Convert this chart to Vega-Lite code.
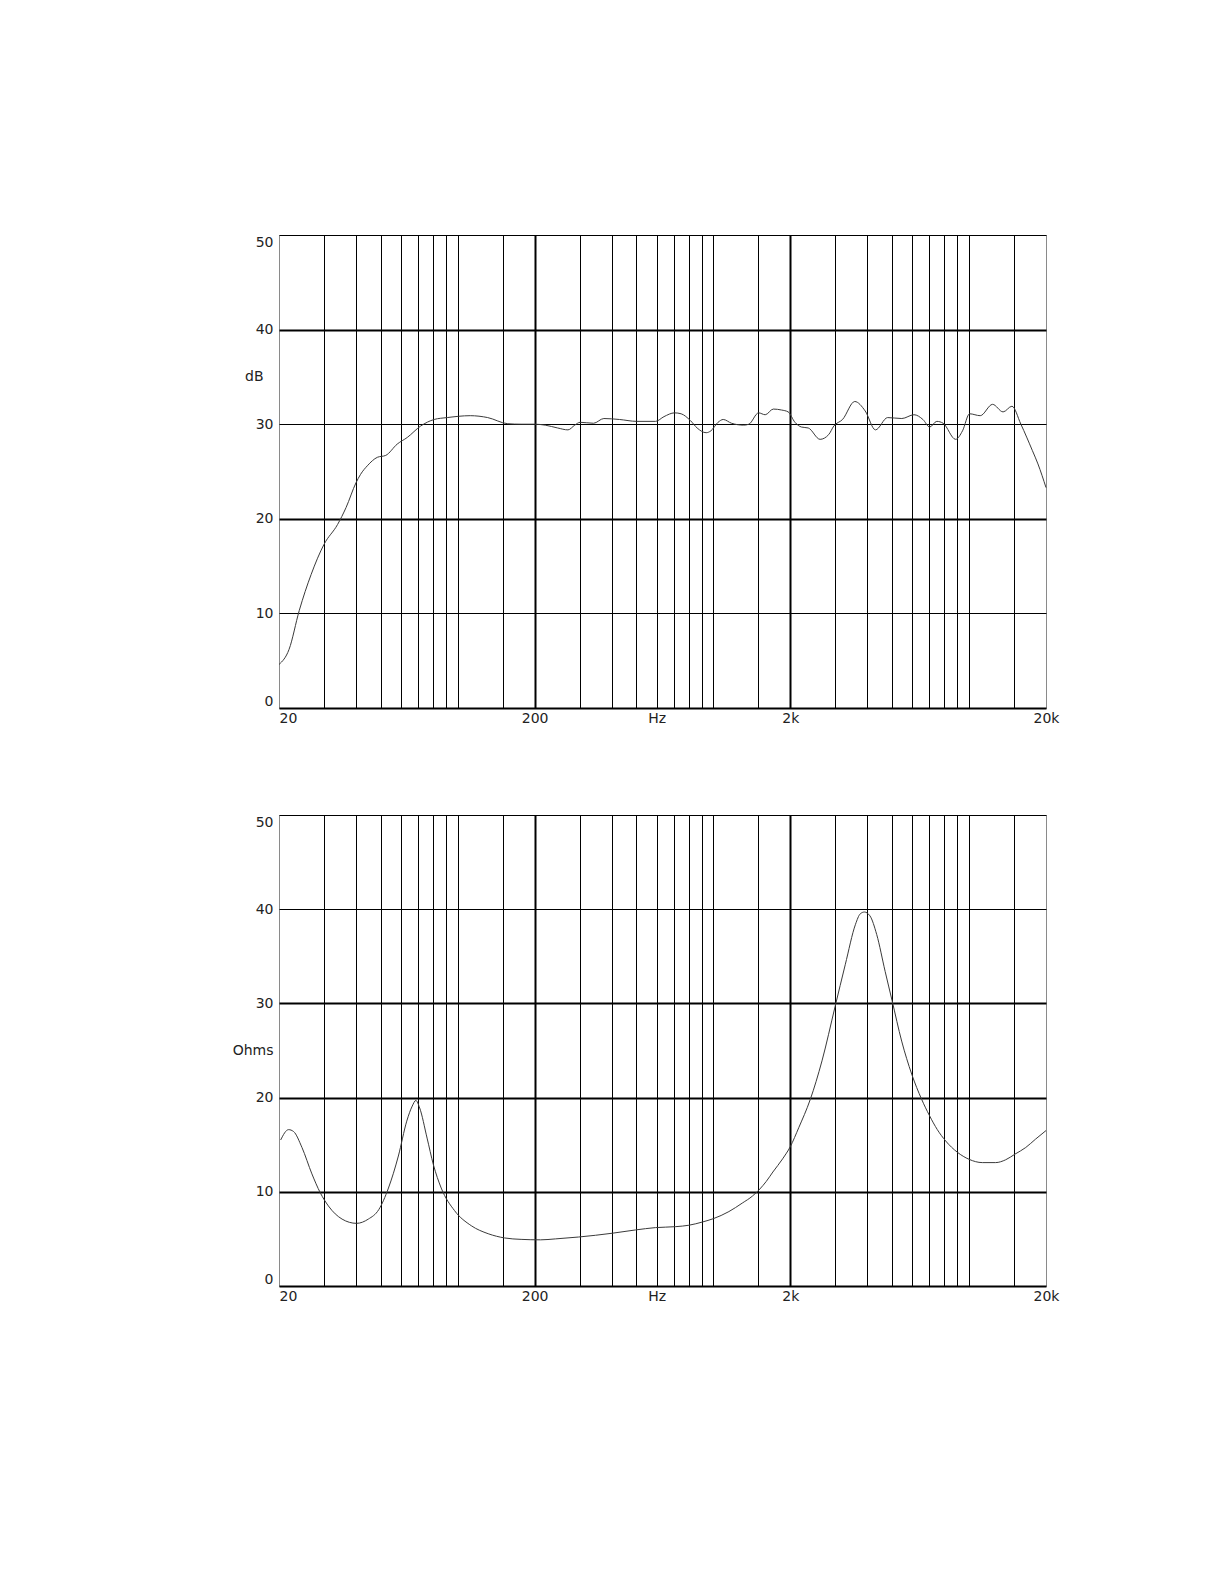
{
  "$schema": "https://vega.github.io/schema/vega-lite/v6.json",
  "background": "white",
  "padding": {"left": 231, "top": 234, "right": 0, "bottom": 0},
  "config": {
    "view": {"stroke": "#8a8a8a", "strokeWidth": 1},
    "axis": {
      "labelFont": "DejaVu Sans",
      "labelFontSize": 14,
      "labelColor": "#222222",
      "ticks": false,
      "domain": false,
      "title": null,
      "gridColor": "black",
      "labelOverlap": false
    }
  },
  "datasets": {
    "spl": [
      {"f": 20, "db": 4.6}, {"f": 21.9, "db": 6.2}, {"f": 24.0, "db": 10.3}, {"f": 26.7, "db": 14.1},
      {"f": 30, "db": 17.3}, {"f": 33.9, "db": 19.4}, {"f": 36.6, "db": 21.2}, {"f": 40, "db": 23.8},
      {"f": 41.7, "db": 24.7}, {"f": 44.3, "db": 25.6}, {"f": 48.5, "db": 26.5}, {"f": 52.3, "db": 26.7},
      {"f": 58, "db": 27.9}, {"f": 63.5, "db": 28.6}, {"f": 71.6, "db": 29.8}, {"f": 80.9, "db": 30.5},
      {"f": 91, "db": 30.7}, {"f": 112, "db": 30.9}, {"f": 131, "db": 30.7}, {"f": 157, "db": 30.05},
      {"f": 177, "db": 30.0}, {"f": 200, "db": 30.0}, {"f": 220, "db": 29.9}, {"f": 246, "db": 29.6},
      {"f": 270, "db": 29.4}, {"f": 287, "db": 29.9}, {"f": 301, "db": 30.2}, {"f": 340, "db": 30.1},
      {"f": 373, "db": 30.6}, {"f": 429, "db": 30.5}, {"f": 501, "db": 30.3}, {"f": 594, "db": 30.3},
      {"f": 641, "db": 30.8}, {"f": 705, "db": 31.2}, {"f": 748, "db": 31.1}, {"f": 812, "db": 30.4},
      {"f": 864, "db": 29.6}, {"f": 937, "db": 29.1}, {"f": 978, "db": 29.3}, {"f": 1043, "db": 30.2},
      {"f": 1093, "db": 30.5}, {"f": 1178, "db": 30.1}, {"f": 1313, "db": 29.9}, {"f": 1377, "db": 30.0},
      {"f": 1503, "db": 31.2}, {"f": 1595, "db": 31.0}, {"f": 1716, "db": 31.6}, {"f": 1847, "db": 31.5},
      {"f": 1961, "db": 31.3}, {"f": 2085, "db": 30.2}, {"f": 2211, "db": 29.7}, {"f": 2350, "db": 29.6},
      {"f": 2615, "db": 28.4}, {"f": 2825, "db": 28.9}, {"f": 2958, "db": 29.8}, {"f": 3201, "db": 30.5},
      {"f": 3573, "db": 32.4}, {"f": 3925, "db": 31.4}, {"f": 4305, "db": 29.4}, {"f": 4806, "db": 30.7},
      {"f": 5458, "db": 30.6}, {"f": 6093, "db": 31.0}, {"f": 6600, "db": 30.5}, {"f": 7018, "db": 29.7},
      {"f": 7480, "db": 30.3}, {"f": 7920, "db": 30.1}, {"f": 8860, "db": 28.4}, {"f": 9430, "db": 29.3},
      {"f": 10050, "db": 31.1}, {"f": 11060, "db": 30.9}, {"f": 12360, "db": 32.1}, {"f": 13590, "db": 31.3},
      {"f": 14720, "db": 31.9}, {"f": 15950, "db": 30.0}, {"f": 17700, "db": 27.2}, {"f": 18600, "db": 25.8},
      {"f": 20000, "db": 23.3}
    ],
    "imp": [
      {"f": 20.3, "ohm": 15.5}, {"f": 21.8, "ohm": 16.6}, {"f": 22.8, "ohm": 16.4}, {"f": 24.6, "ohm": 14.7},
      {"f": 26.9, "ohm": 11.9}, {"f": 29, "ohm": 9.9}, {"f": 31.2, "ohm": 8.5}, {"f": 35.3, "ohm": 7.1},
      {"f": 40.2, "ohm": 6.65}, {"f": 44.7, "ohm": 7.1}, {"f": 49.1, "ohm": 8.1}, {"f": 53.6, "ohm": 10.4},
      {"f": 58.6, "ohm": 13.8}, {"f": 63.2, "ohm": 17.5}, {"f": 66.4, "ohm": 19.1}, {"f": 68.6, "ohm": 19.7},
      {"f": 71, "ohm": 18.9}, {"f": 75.9, "ohm": 15.7}, {"f": 80.3, "ohm": 12.9}, {"f": 86.2, "ohm": 10.4},
      {"f": 97.2, "ohm": 8.0}, {"f": 113, "ohm": 6.4}, {"f": 131.6, "ohm": 5.55}, {"f": 152.6, "ohm": 5.1},
      {"f": 177, "ohm": 4.95}, {"f": 211, "ohm": 4.9}, {"f": 241, "ohm": 5.0}, {"f": 297, "ohm": 5.2},
      {"f": 402, "ohm": 5.6}, {"f": 496, "ohm": 5.95}, {"f": 594, "ohm": 6.2}, {"f": 713, "ohm": 6.3},
      {"f": 802, "ohm": 6.45}, {"f": 908, "ohm": 6.8}, {"f": 1000, "ohm": 7.15}, {"f": 1150, "ohm": 7.9},
      {"f": 1297, "ohm": 8.8}, {"f": 1422, "ohm": 9.55}, {"f": 1520, "ohm": 10.3}, {"f": 1610, "ohm": 11.1},
      {"f": 1709, "ohm": 12.1}, {"f": 1866, "ohm": 13.5}, {"f": 2000, "ohm": 14.8}, {"f": 2157, "ohm": 16.8},
      {"f": 2393, "ohm": 19.8}, {"f": 2660, "ohm": 23.9}, {"f": 2995, "ohm": 29.7}, {"f": 3279, "ohm": 34.1},
      {"f": 3597, "ohm": 38.4}, {"f": 3752, "ohm": 39.5}, {"f": 3897, "ohm": 39.7}, {"f": 4095, "ohm": 39.3},
      {"f": 4355, "ohm": 37.3}, {"f": 4697, "ohm": 33.4}, {"f": 5000, "ohm": 30.3}, {"f": 5451, "ohm": 26.0},
      {"f": 5966, "ohm": 22.5}, {"f": 6530, "ohm": 19.8}, {"f": 7000, "ohm": 18.1}, {"f": 7515, "ohm": 16.6},
      {"f": 8100, "ohm": 15.4}, {"f": 9000, "ohm": 14.2}, {"f": 10000, "ohm": 13.45}, {"f": 11270, "ohm": 13.1},
      {"f": 12710, "ohm": 13.1}, {"f": 13910, "ohm": 13.4}, {"f": 15130, "ohm": 14.0}, {"f": 16660, "ohm": 14.7},
      {"f": 18220, "ohm": 15.6}, {"f": 20000, "ohm": 16.5}
    ]
  },
  "bounds": "flush",
  "spacing": 107,
  "vconcat": [
    {
      "width": 767,
      "height": 473,
      "data": {"name": "spl"},
      "mark": {"type": "line", "interpolate": "monotone", "stroke": "#3a3a3a", "strokeWidth": 1},
      "encoding": {
        "x": {
          "field": "f",
          "type": "quantitative",
          "scale": {"type": "log", "domain": [20, 20000], "nice": false},
          "axis": {
            "values": [20, 30, 40, 50, 60, 70, 80, 90, 100, 150, 200, 300, 400, 500, 600, 700, 800, 900, 1000, 1500, 2000, 3000, 4000, 5000, 6000, 7000, 8000, 9000, 10000, 15000, 20000],
            "grid": true,
            "gridWidth": {"condition": {"test": "datum.value == 200 || datum.value == 2000", "value": 2}, "value": 1},
            "gridColor": {"condition": {"test": "datum.value == 20 || datum.value == 20000", "value": "#8a8a8a"}, "value": "black"},
            "labelExpr": "datum.value == 20 ? '20' : datum.value == 200 ? '200' : datum.value == 600 ? 'Hz' : datum.value == 2000 ? '2k' : datum.value == 20000 ? '20k' : ''",
            "labelFlush": false,
            "labelAlign": {"condition": {"test": "datum.value == 20", "value": "left"}, "value": "center"},
            "labelPadding": 3
          }
        },
        "y": {
          "field": "db",
          "type": "quantitative",
          "scale": {"domain": [0, 50], "nice": false, "zero": false},
          "axis": {
            "values": [0, 10, 20, 30, 35, 40, 50],
            "grid": true,
            "gridWidth": {"condition": {"test": "datum.value == 0 || datum.value == 20 || datum.value == 40", "value": 2}, "value": 1},
            "gridOpacity": {"condition": {"test": "datum.value == 35", "value": 0}, "value": 1},
            "labelExpr": "datum.value == 35 ? 'dB' : datum.label",
            "labelFlush": true,
            "labelPadding": {"condition": {"test": "datum.value == 35", "value": 16}, "value": 6}
          }
        }
      }
    },
    {
      "width": 767,
      "height": 471,
      "data": {"name": "imp"},
      "mark": {"type": "line", "interpolate": "monotone", "stroke": "#3a3a3a", "strokeWidth": 1},
      "encoding": {
        "x": {
          "field": "f",
          "type": "quantitative",
          "scale": {"type": "log", "domain": [20, 20000], "nice": false},
          "axis": {
            "values": [20, 30, 40, 50, 60, 70, 80, 90, 100, 150, 200, 300, 400, 500, 600, 700, 800, 900, 1000, 1500, 2000, 3000, 4000, 5000, 6000, 7000, 8000, 9000, 10000, 15000, 20000],
            "grid": true,
            "gridWidth": {"condition": {"test": "datum.value == 200 || datum.value == 2000", "value": 2}, "value": 1},
            "gridColor": {"condition": {"test": "datum.value == 20 || datum.value == 20000", "value": "#8a8a8a"}, "value": "black"},
            "labelExpr": "datum.value == 20 ? '20' : datum.value == 200 ? '200' : datum.value == 600 ? 'Hz' : datum.value == 2000 ? '2k' : datum.value == 20000 ? '20k' : ''",
            "labelFlush": false,
            "labelAlign": {"condition": {"test": "datum.value == 20", "value": "left"}, "value": "center"},
            "labelPadding": 3
          }
        },
        "y": {
          "field": "ohm",
          "type": "quantitative",
          "scale": {"domain": [0, 50], "nice": false, "zero": false},
          "axis": {
            "values": [0, 10, 20, 25, 30, 40, 50],
            "grid": true,
            "gridWidth": {"condition": {"test": "datum.value <= 30", "value": 2}, "value": 1},
            "gridOpacity": {"condition": {"test": "datum.value == 25", "value": 0}, "value": 1},
            "labelExpr": "datum.value == 25 ? 'Ohms' : datum.label",
            "labelFlush": true,
            "labelPadding": 6
          }
        }
      }
    }
  ]
}
